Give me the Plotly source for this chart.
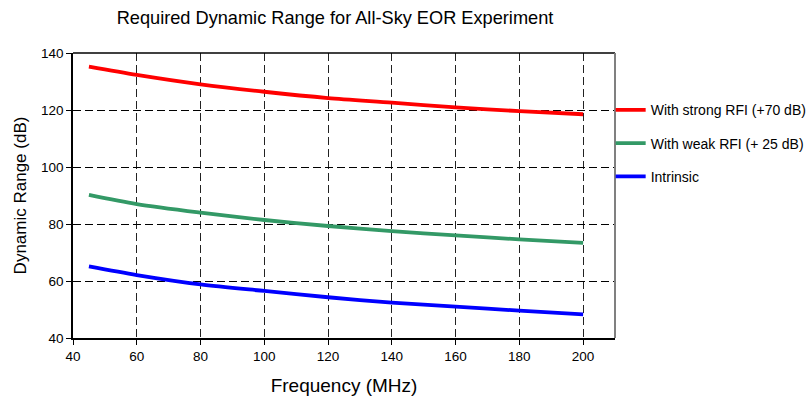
import plotly.graph_objects as go

freq = [45, 60, 80, 100, 120, 140, 160, 180, 200]
strong_rfi = [135.2, 132.3, 129.0, 126.4, 124.2, 122.6, 120.9, 119.6, 118.5]
weak_rfi = [90.2, 87.0, 84.0, 81.4, 79.3, 77.5, 76.0, 74.6, 73.4]
intrinsic = [65.1, 62.1, 58.8, 56.5, 54.3, 52.4, 51.0, 49.6, 48.3]

x_ticks = [40, 60, 80, 100, 120, 140, 160, 180, 200]
y_ticks = [40, 60, 80, 100, 120, 140]

series = [
    ("With strong RFI (+70 dB)", strong_rfi, "#ff0000"),
    ("With weak RFI (+ 25 dB)", weak_rfi, "#339966"),
    ("Intrinsic", intrinsic, "#0000ff"),
]

fig = go.Figure()
for i, (name, vals, col) in enumerate(series):
    fig.add_trace(go.Scatter(
        x=freq, y=vals, mode="lines", name=name,
        line=dict(color=col, width=3.8, shape="spline", smoothing=0.8),
        legendgroup=f"g{i}",
    ))

font = "Liberation Sans, Arial, sans-serif"
fig.update_layout(
    width=812, height=399,
    margin=dict(l=73, r=197, t=53, b=61, autoexpand=False),
    paper_bgcolor="white", plot_bgcolor="white",
    font=dict(family=font, color="black", size=13.5),
    title=dict(text="Required Dynamic Range for All-Sky EOR Experiment",
               x=335/812, xanchor="center", xref="container",
               y=1 - 18/399, yanchor="middle", yref="container",
               font=dict(size=18.2)),
    showlegend=True,
    legend=dict(x=0.992, xanchor="left", y=0.855, yanchor="top",
                font=dict(size=14), tracegroupgap=12,
                bgcolor="rgba(0,0,0,0)", itemwidth=30),
    xaxis=dict(range=[40, 210], tickvals=x_ticks, ticks="outside", ticklen=5,
               tickcolor="black", showline=True, linecolor="black", linewidth=1.5,
               showgrid=True, gridcolor="#222222", griddash="8px,4px", gridwidth=1,
               zeroline=False, automargin=False,
               title=dict(text="Frequency (MHz)", font=dict(size=19), standoff=16)),
    yaxis=dict(range=[40, 140], tickvals=y_ticks, ticks="outside", ticklen=5,
               tickcolor="black", showline=True, linecolor="black", linewidth=1.5,
               showgrid=True, gridcolor="black", griddash="8px,4px", gridwidth=1,
               zeroline=False, automargin=False,
               title=dict(text="Dynamic Range (dB)", font=dict(size=17), standoff=10)),
)
fig.add_shape(type="line", xref="paper", yref="paper", x0=0, x1=1, y0=1, y1=1,
              line=dict(color="black", width=1.5))
fig.add_shape(type="line", xref="paper", yref="paper", x0=1, x1=1, y0=0, y1=1,
              line=dict(color="#808080", width=2))

fig.write_html("out.html", config={"displayModeBar": False},
               post_script="document.body.style.margin='0';document.body.style.padding='0';")
